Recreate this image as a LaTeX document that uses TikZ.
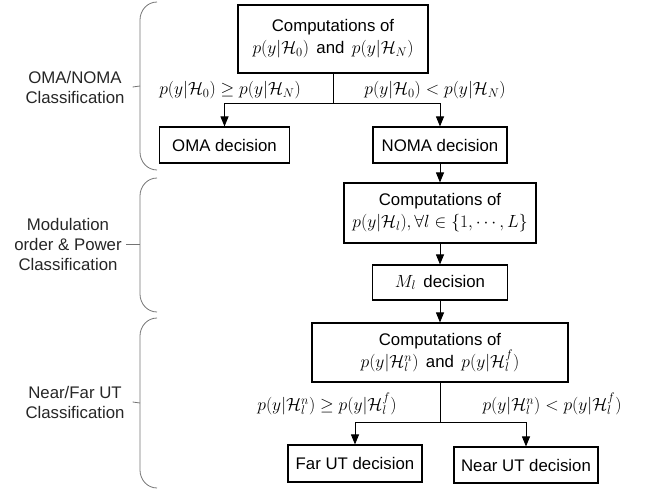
\RequirePackage{fix-cm}
\documentclass[tikz,border=0pt]{standalone}
\usepackage[no-math]{fontspec}
\setmainfont{Liberation Sans}
\DeclareMathSizes{16.8}{17.6}{12.5}{9.5}
\usetikzlibrary{arrows.meta}
\begin{document}
\begin{tikzpicture}[x=1pt,y=-1pt]
	\tikzstyle{block}=[rectangle,draw=black,line width=1.1pt,align=center,inner sep=0pt,font=\fontsize{16.8}{22}\selectfont]
	\tikzstyle{edge}=[draw,line width=0.9pt,-{Triangle[length=10pt,width=8pt]}]
	\tikzstyle{line}=[draw,line width=0.9pt]
	\tikzstyle{cond}=[inner sep=0pt,font=\fontsize{16.8}{20.5}\selectfont]
	\tikzstyle{group}=[align=center,inner sep=0pt,text=black!85,font=\fontsize{16.8}{20}\selectfont]
	\tikzstyle{brace}=[draw=black!55,line width=0.8pt]
	\useasboundingbox (0,0) rectangle (645,489);
	% flow chart
	\node [block,minimum width=190pt,minimum height=68pt] (comp0) at (333,39) {Computations of\\$p(y|\mathcal{H}_0)$\, and\, $p(y|\mathcal{H}_N)$};
	\node [block,minimum width=130pt,minimum height=36pt] (oma) at (224.5,145) {OMA decision};
	\node [block,minimum width=134pt,minimum height=36pt] (noma) at (440,145) {NOMA decision};
	\node [block,minimum width=192pt,minimum height=60pt] (comp1) at (440,213) {Computations of\\$p(y|\mathcal{H}_l),\forall l\in\{1,\cdots,L\}$};
	\node [block,minimum width=135pt,minimum height=35pt] (mod) at (440,282.5) {$M_l$\, decision};
	\node [block,minimum width=256pt,minimum height=59pt] (comp2) at (440,352.5) {Computations of\\$p\bigl(y\big|\mathcal{H}_l^n\bigr)$\, and\, $p\bigl(y\big|\mathcal{H}_l^f\bigr)$};
	\node [block,minimum width=134pt,minimum height=37pt] (far) at (355,463.5) {Far UT decision};
	\node [block,minimum width=144pt,minimum height=36pt] (near) at (526,465) {Near UT decision};
	\coordinate (split0) at (333,103);
	\coordinate (split1) at (440,422);
	\path[line] (comp0) -- (split0);
	\path[edge] (split0) -| (oma);
	\path[edge] (split0) -| (noma);
	\path[edge] (noma) -- (comp1);
	\path[edge] (comp1) -- (mod);
	\path[edge] (mod) -- (comp2);
	\path[line] (comp2) -- (split1);
	\path[edge] (split1) -| (far);
	\path[edge] (split1) -| (near);
	\node [cond] (c0) at (230,90) {$p(y|\mathcal{H}_0)\geq p(y|\mathcal{H}_N)$};
	\node [cond] (c1) at (435,90) {$p(y|\mathcal{H}_0)<p(y|\mathcal{H}_N)$};
	\node [cond] (c2) at (327,404) {$p(y|\mathcal{H}_l^n)\geq p\bigl(y\big|\mathcal{H}_l^f\bigr)$};
	\node [cond] (c3) at (552,404) {$p(y|\mathcal{H}_l^n)<p\bigl(y\big|\mathcal{H}_l^f\bigr)$};
	% classification stages
	\node [group] (g0) at (75,87) {OMA/NOMA\\Classification};
	\node [group] (g1) at (68,244) {Modulation\\order \& Power\\Classification};
	\node [group] (g2) at (75,402) {Near/Far UT\\Classification};
	\path[brace] (157,2) to[out=180,in=90] (140,20) -- (140,152) to[out=-90,in=180] (157,170);
	\path[brace] (157,178) to[out=180,in=90] (140,196) -- (140,294) to[out=-90,in=180] (157,312);
	\path[brace] (157,318) to[out=180,in=90] (140,336) -- (140,470) to[out=-90,in=180] (157,488);
	\coordinate (b0) at (140,86);
	\coordinate (b1) at (140,244);
	\coordinate (b2) at (140,403);
	\path[brace] (g0.east) ++(8pt,0) -- (b0);
	\path[brace] (g1.east) ++(4pt,0) -- (b1);
	\path[brace] (g2.east) ++(8pt,0) -- (b2);
\end{tikzpicture}
\end{document}
